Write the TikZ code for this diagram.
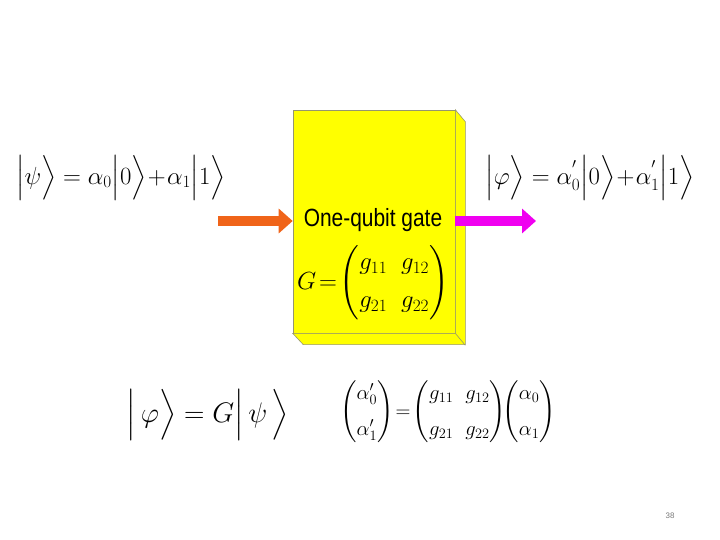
\documentclass[tikz,border=0pt]{standalone}
\usepackage{amsmath}
\usepackage{fontspec}
\setsansfont{Liberation Sans}
\usetikzlibrary{arrows.meta, positioning}
\definecolor{gateyellow}{RGB}{255, 255, 0}
\definecolor{gateedge}{RGB}{150, 150, 110}
\definecolor{inorange}{RGB}{240, 100, 25}
\definecolor{outmagenta}{RGB}{240, 0, 240}
\definecolor{pagegrey}{RGB}{120, 120, 120}

\begin{document}
\begin{tikzpicture}[
    x=1bp, y=-1bp,
    eqn/.style={inner sep=0pt, font=\fontsize{27}{30}\selectfont},
    gatebox/.style={rectangle, draw=gateedge, fill=gateyellow, line width=0.6pt, minimum width=162bp, minimum height=223bp, inner sep=0pt},
    face/.style={draw=gateedge, fill=gateyellow, line width=0.6pt},
    flow/.style={line width=10bp, -{Triangle[width=24bp, length=14bp]}}
]
    \useasboundingbox (0,0) rectangle (720,540);

    % the gate as a block
    \node[gatebox] (gate) at (374, 221.5) {};
    \filldraw[face] (gate.north east) -- ++(10,12) -- ++(0,223) -- ++(-162,0) -- (gate.south west) -- (gate.south east) -- cycle;
    \draw[gateedge, line width=0.6pt] (gate.south east) -- ++(10,12);
    \node[font=\sffamily\fontsize{25}{28}\selectfont, xscale=0.84, transform shape] (title) at (373, 220) {One-qubit gate};
    \node[eqn, font=\fontsize{24}{28}\selectfont] (gmat) at (373, 283)
        {$\setlength{\arraycolsep}{7pt}G\!=\!\begin{pmatrix} g_{11} & g_{12}\\[10pt] g_{21} & g_{22}\end{pmatrix}$};

    % states
    \node[eqn] (psi) at (121, 178) {$\Bigl|\psi\Bigr\rangle=\alpha_0\Bigl|0\Bigr\rangle\!+\!\alpha_1\Bigl|1\Bigr\rangle$};
    \node[eqn] (phi) at (590, 178) {$\Bigl|\varphi\Bigr\rangle=\alpha_0^{'}\Bigl|0\Bigr\rangle\!+\!\alpha_1^{'}\Bigl|1\Bigr\rangle$};

    % arrows in and out
    \coordinate (instart) at (218, 221);
    \coordinate (outend) at (536, 221);
    \draw[flow, inorange] (instart) -- (gate.west |- instart);
    \draw[flow, outmagenta] (gate.east |- outend) -- (outend);

    % relations below
    \node[eqn, font=\fontsize{40}{44}\selectfont, scale=1.14, transform shape] (rel) at (208, 415) {$\Bigl|\,\varphi\Bigr\rangle=G\Bigl|\,\psi\,\Bigr\rangle$};
    \node[eqn, font=\fontsize{22}{26}\selectfont] (matrel) at (448, 412)
        {$\setlength{\arraycolsep}{6pt}\begin{pmatrix}\alpha_0'\\[10pt]\alpha_1'\end{pmatrix}\!=\!\begin{pmatrix} g_{11} & g_{12}\\[10pt] g_{21} & g_{22}\end{pmatrix}\!\!\begin{pmatrix}\alpha_0\\[10pt]\alpha_1\end{pmatrix}$};

    \node[font=\sffamily\fontsize{8}{10}\selectfont, text=pagegrey] (pagenum) at (670, 516) {38};
\end{tikzpicture}
\end{document}
